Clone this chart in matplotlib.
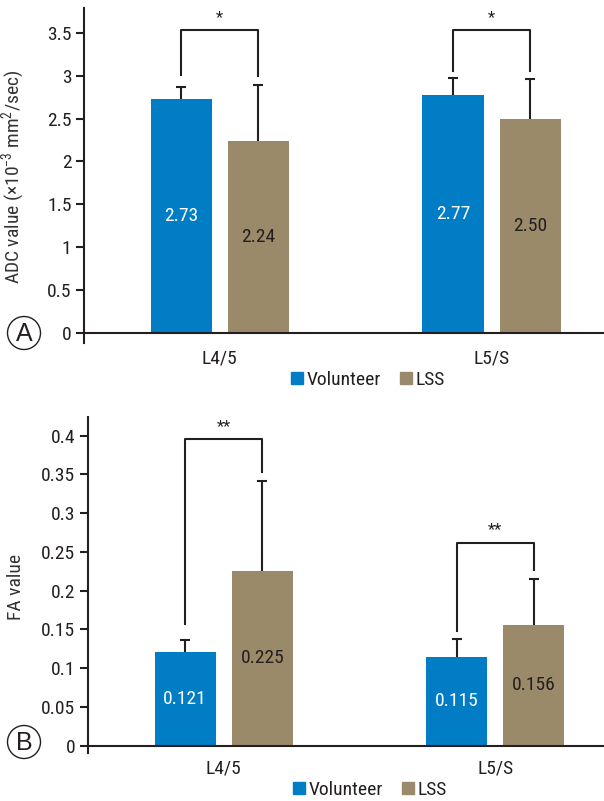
import matplotlib.pyplot as plt
from matplotlib.patches import Ellipse, Patch

plt.rcParams["font.family"] = ["Roboto Condensed", "Liberation Sans", "DejaVu Sans"]
plt.rcParams["mathtext.default"] = "regular"

groups = ["L4/5", "L5/S"]
series = ["Volunteer", "LSS"]

adc_vol = [2.73, 2.77]
adc_lss = [2.24, 2.50]
adc_vol_sd = [0.14, 0.20]
adc_lss_sd = [0.65, 0.46]
adc_labels_vol = ["2.73", "2.77"]
adc_labels_lss = ["2.24", "2.50"]
# bracket: top, left leg bottom, right leg bottom, stars
adc_brackets = [(3.53, 3.01, 3.00, "*"), (3.53, 3.05, 3.05, "*")]

fa_vol = [0.121, 0.115]
fa_lss = [0.225, 0.156]
fa_vol_sd = [0.015, 0.022]
fa_lss_sd = [0.117, 0.059]
fa_labels_vol = ["0.121", "0.115"]
fa_labels_lss = ["0.225", "0.156"]
fa_brackets = [(0.395, 0.1566, 0.3535, "**"), (0.262, 0.148, 0.2267, "**")]

BLUE = "#007DC5"
TAN = "#9A8A6A"
DARK = "#231F20"

fig = plt.figure(figsize=(6.04, 8.01), dpi=100)


def panel(rect, vol, lss, vol_sd, lss_sd, lab_v, lab_l, brackets, ylim, xlim,
          yticks, yticklabels, ylabel, label_x, letter, letter_xy, legend_xy, star_off):
    ax = fig.add_axes(rect)
    w = 0.225
    off = 0.142
    xs = list(range(len(groups)))
    xv = [x - off for x in xs]
    xl = [x + off for x in xs]
    ax.bar(xv, vol, w, color=BLUE, zorder=2)
    ax.bar(xl, lss, w, color=TAN, zorder=2)
    ax.errorbar(xv, vol, yerr=vol_sd, fmt="none", ecolor=DARK,
                elinewidth=1.5, capsize=3.3, capthick=1.5, zorder=1)
    ax.errorbar(xl, lss, yerr=lss_sd, fmt="none", ecolor=DARK,
                elinewidth=1.5, capsize=3.3, capthick=1.5, zorder=1)
    for i in xs:
        ax.text(xv[i], vol[i] / 2, lab_v[i], color="white", ha="center", va="center", fontsize=14)
        ax.text(xl[i], lss[i] / 2, lab_l[i], color=DARK, ha="center", va="center", fontsize=14)
        top, lb, rb, star = brackets[i]
        ax.plot([xv[i], xv[i], xl[i], xl[i]], [lb, top, top, rb], color=DARK, lw=1.5)
        ax.text(i, top + star_off, star, ha="center", va="center", fontsize=12, color=DARK)
    ax.axhline(0, color=DARK, lw=1.5, zorder=3)
    ax.set_xlim(*xlim)
    ax.set_ylim(*ylim)
    ax.set_yticks(yticks)
    ax.set_yticklabels(yticklabels)
    ax.set_xticks(xs)
    ax.set_xticklabels(groups)
    ax.tick_params(axis="x", length=0, pad=5, labelsize=14, colors=DARK)
    ax.tick_params(axis="y", length=6, width=1.5, pad=3, labelsize=14, colors=DARK)
    for s in ["top", "right", "bottom"]:
        ax.spines[s].set_visible(False)
    ax.spines["left"].set_linewidth(1.5)
    ax.spines["left"].set_color(DARK)
    ax.set_ylabel(ylabel, fontsize=14, color="#333333")
    ax.yaxis.set_label_coords(label_x, 0.495)
    fig.add_artist(Ellipse(letter_xy, 33 / 604, 33 / 801, transform=fig.transFigure,
                           fill=False, edgecolor=DARK, lw=1.0))
    fig.text(letter_xy[0], letter_xy[1] - 0.001, letter, ha="center", va="center",
             fontsize=18, color=DARK, family=["Liberation Sans", "DejaVu Sans"])
    handles = [Patch(color=BLUE), Patch(color=TAN)]
    fig.legend(handles, series, loc="center", bbox_to_anchor=legend_xy, ncol=2,
               frameon=False, fontsize=14, handlelength=0.6, handleheight=0.6,
               handletextpad=0.2, columnspacing=1.0, labelcolor=DARK)
    return ax


panel([84 / 604, 1 - 343 / 801, 520 / 604, 335 / 801], adc_vol, adc_lss, adc_vol_sd, adc_lss_sd,
      adc_labels_vol, adc_labels_lss, adc_brackets, (-0.12, 3.79), (-0.5, 1.414),
      [0, 0.5, 1, 1.5, 2, 2.5, 3, 3.5], ["0", "0.5", "1", "1.5", "2", "2.5", "3", "3.5"],
      r"ADC value (×10$^{-3}$ mm$^{2}$/sec)", -0.11, "A", (24 / 604, 1 - 333 / 801),
      (368 / 604, 1 - 380 / 801), 0.15)

panel([88 / 604, 1 - 753 / 801, 516 / 604, 336 / 801], fa_vol, fa_lss, fa_vol_sd, fa_lss_sd,
      fa_labels_vol, fa_labels_lss, fa_brackets, (-0.0095, 0.424), (-0.5, 1.40),
      [0, 0.05, 0.1, 0.15, 0.2, 0.25, 0.3, 0.35, 0.4],
      ["0", "0.05", "0.1", "0.15", "0.2", "0.25", "0.3", "0.35", "0.4"],
      "FA value", -0.122, "B", (24 / 604, 1 - 742 / 801), (370 / 604, 1 - 790 / 801), 0.017)

fig.savefig("out.png", dpi=100)
